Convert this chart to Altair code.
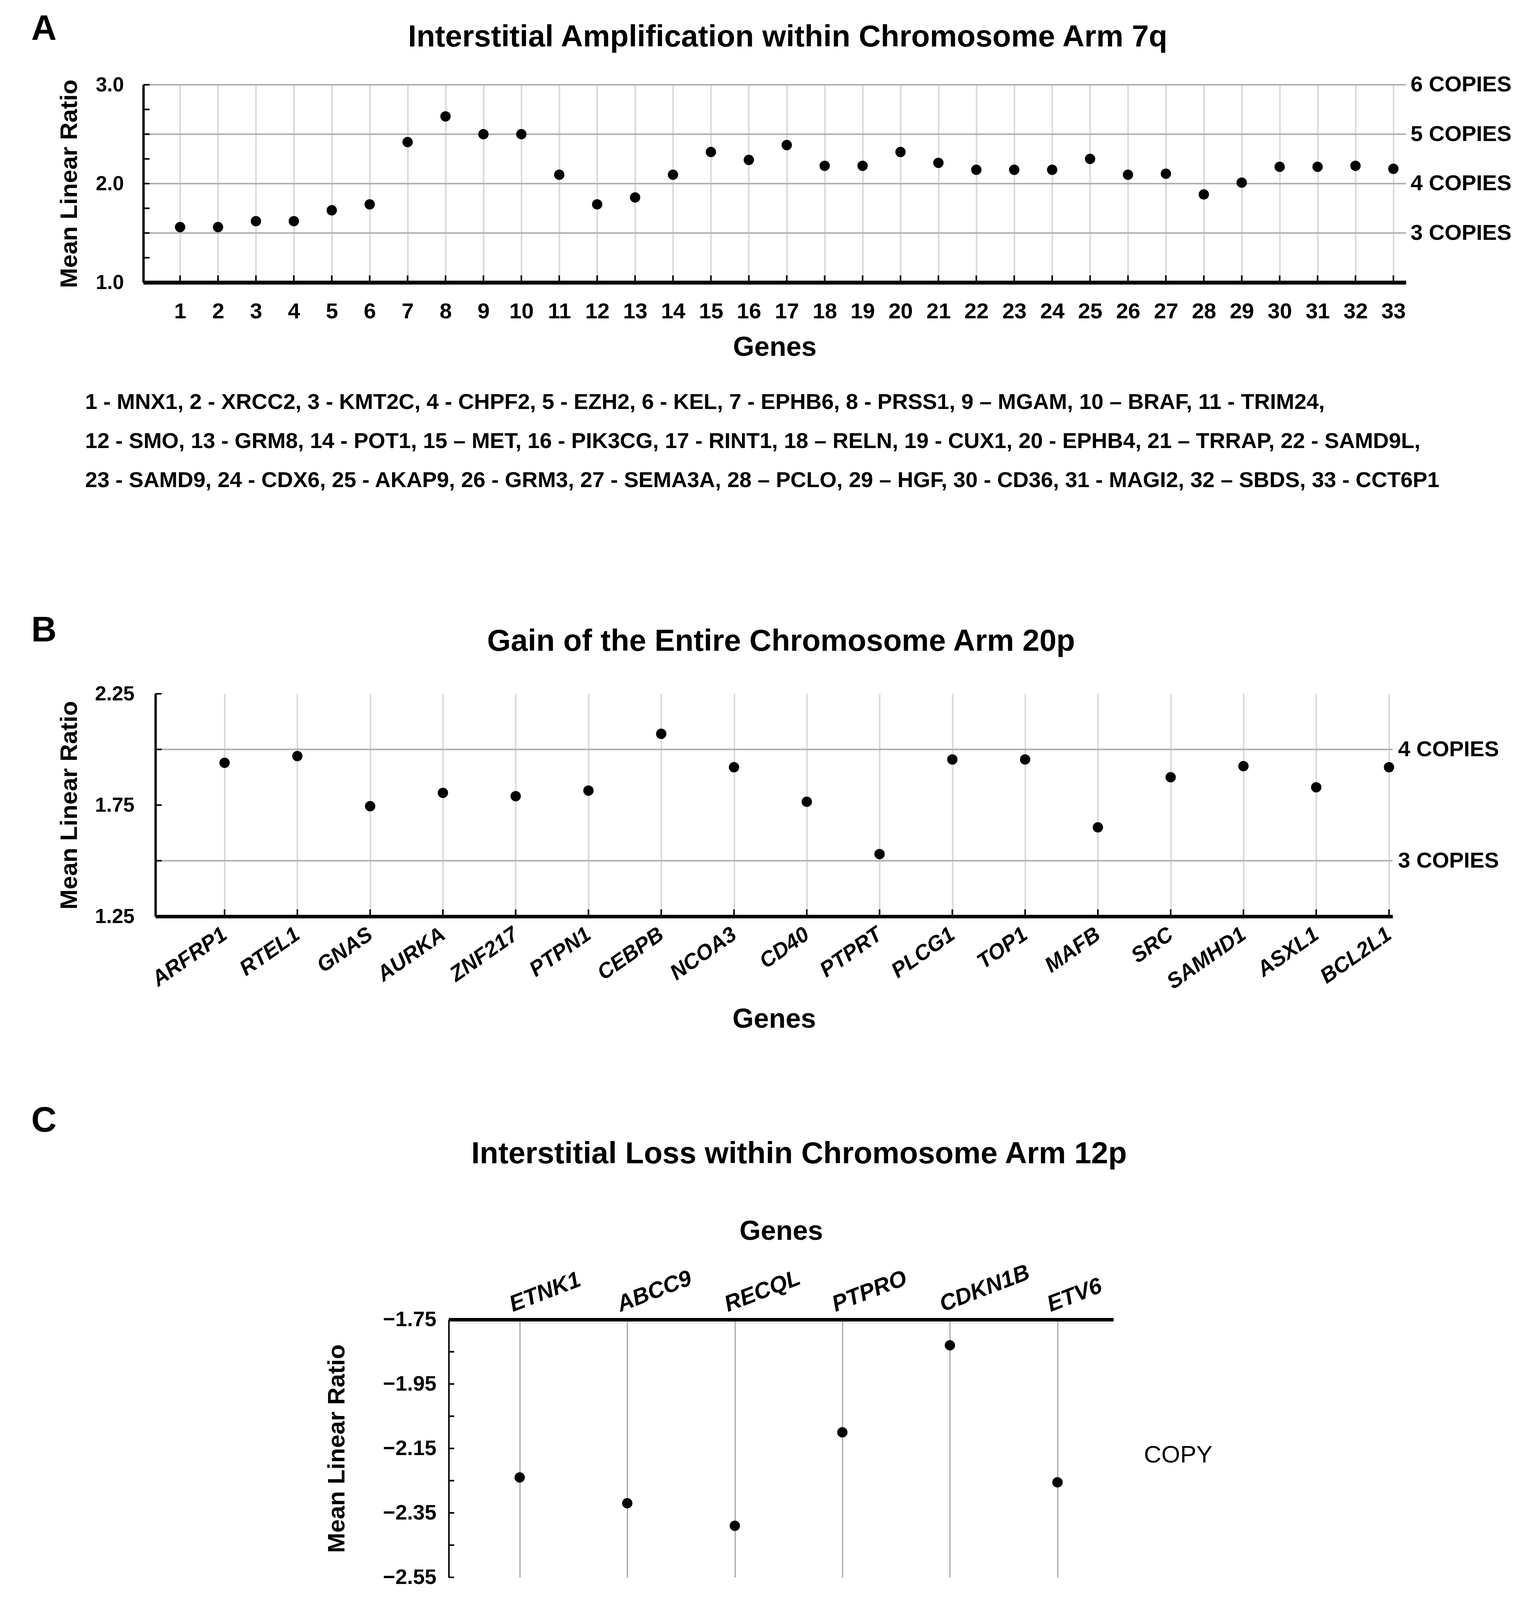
import altair as alt
import pandas as pd

FONT = "Liberation Sans"

# ---------------- Panel A data ----------------
a_idx = list(range(1, 34))
a_names = ["MNX1", "XRCC2", "KMT2C", "CHPF2", "EZH2", "KEL", "EPHB6", "PRSS1", "MGAM",
           "BRAF", "TRIM24", "SMO", "GRM8", "POT1", "MET", "PIK3CG", "RINT1", "RELN",
           "CUX1", "EPHB4", "TRRAP", "SAMD9L", "SAMD9", "CDX6", "AKAP9", "GRM3", "SEMA3A",
           "PCLO", "HGF", "CD36", "MAGI2", "SBDS", "CCT6P1"]
a_dash = ["-", "-", "-", "-", "-", "-", "-", "-", "–", "–", "-",
          "-", "-", "-", "–", "-", "-", "–", "-", "-", "–", "-",
          "-", "-", "-", "-", "-", "–", "–", "-", "-", "–", "-"]
a_ratio = [1.56, 1.56, 1.62, 1.62, 1.73, 1.79, 2.42, 2.68, 2.50, 2.50, 2.09,
           1.79, 1.86, 2.09, 2.32, 2.24, 2.39, 2.18, 2.18, 2.32, 2.21, 2.14,
           2.14, 2.14, 2.25, 2.09, 2.10, 1.89, 2.01, 2.17, 2.17, 2.18, 2.15]
a_ytick_vals = [1.0, 1.25, 1.5, 1.75, 2.0, 2.25, 2.5, 2.75, 3.0]
a_ylabel_vals = [1.0, 2.0, 3.0]
a_copy_ratio = [1.5, 2.0, 2.5, 3.0]
a_copy_label = ["3 COPIES", "4 COPIES", "5 COPIES", "6 COPIES"]
a_line_breaks = [11, 22]

# ---------------- Panel B data ----------------
b_genes = ["ARFRP1", "RTEL1", "GNAS", "AURKA", "ZNF217", "PTPN1", "CEBPB", "NCOA3", "CD40",
           "PTPRT", "PLCG1", "TOP1", "MAFB", "SRC", "SAMHD1", "ASXL1", "BCL2L1"]
b_ratio = [1.94, 1.97, 1.745, 1.805, 1.79, 1.815, 2.07, 1.92, 1.765,
           1.53, 1.955, 1.955, 1.65, 1.875, 1.925, 1.83, 1.92]
b_ytick_vals = [1.25, 1.5, 1.75, 2.0, 2.25]
b_ylabel_vals = [1.25, 1.75, 2.25]
b_copy_ratio = [1.5, 2.0]
b_copy_label = ["3 COPIES", "4 COPIES"]

# ---------------- Panel C data ----------------
c_genes = ["ETNK1", "ABCC9", "RECQL", "PTPRO", "CDKN1B", "ETV6"]
c_ratio = [-2.24, -2.32, -2.39, -2.10, -1.83, -2.255]
c_ytick_vals = [-1.75, -1.85, -1.95, -2.05, -2.15, -2.25, -2.35, -2.45, -2.55]
c_ylabel_vals = [-1.75, -1.95, -2.15, -2.35, -2.55]
c_copy_ratio = [-2.17]
c_copy_label = ["COPY"]


# ---------------- helpers ----------------
def text_layer(text, x, y, size, align="left", weight="bold", line_height=None):
    kw = dict(align=align, baseline="alphabetic", fontSize=size, fontWeight=weight,
              font=FONT, color="black")
    if line_height:
        kw["lineBreak"] = "\n"
        kw["lineHeight"] = line_height
    return alt.Chart(pd.DataFrame({"t": [text]})).mark_text(**kw).encode(
        x=alt.value(x), y=alt.value(y), text="t:N")


def letter_spacer(letter, y, ws):
    return alt.Chart(pd.DataFrame({"t": [letter]})).mark_text(
        align="left", baseline="alphabetic", fontSize=90, fontWeight="bold", font=FONT,
        color="black").encode(x=alt.value(0), y=alt.value(y), text="t:N").properties(
        width=ws, height=1)


def label_expr(names):
    arr = "[" + ",".join("'" + n + "'" for n in names) + "]"
    return arr + "[datum.value - 1]"


def y_axis(values, fmt, pad, title_pad):
    return alt.Axis(values=values, format=fmt, title="Mean Linear Ratio", grid=False,
                    ticks=False, domainColor="black", domainWidth=6,
                    labelFontSize=52, labelFontWeight="bold", labelPadding=pad,
                    titleFontSize=62, titleFontWeight="bold", titlePadding=title_pad)


# ---------------- Panel A ----------------
WA, HA = 3233, 506
xA = alt.Scale(domain=[0.03, 33.33], nice=False, zero=False)
yA = alt.Scale(domain=[1.0, 3.0], nice=False, zero=False)
dfA = pd.DataFrame({"gene": a_idx, "ratio": a_ratio})
axA_x = alt.Axis(values=a_idx, format="d", title="Genes", grid=True, gridColor="#d9d9d9",
                 gridWidth=4, ticks=False, domainColor="black", domainWidth=10,
                 labelFontSize=56, labelFontWeight="bold", labelAngle=0, labelPadding=47,
                 titleFontSize=70, titleFontWeight="bold", titlePadding=30)
axA_y = y_axis(a_ylabel_vals, ".1f", 50, 35)

a_rules = alt.Chart(pd.DataFrame({"ratio": a_copy_ratio, "label": a_copy_label})).mark_rule(
    color="#b0b0b0", strokeWidth=4).encode(y=alt.Y("ratio:Q", scale=yA, axis=axA_y))
a_points = alt.Chart(dfA).mark_circle(size=700, color="black", opacity=1).encode(
    x=alt.X("gene:Q", scale=xA, axis=axA_x), y=alt.Y("ratio:Q", scale=yA, axis=axA_y))
a_yt = alt.Chart(pd.DataFrame({"ratio": a_ytick_vals})).mark_tick(
    orient="horizontal", size=16, thickness=4, color="black", xOffset=8, opacity=1).encode(
    y=alt.Y("ratio:Q", scale=yA, axis=axA_y), x=alt.datum(0.03))
a_xt = alt.Chart(dfA).mark_tick(
    orient="vertical", size=18, thickness=4, color="black", yOffset=-9, opacity=1).encode(
    x=alt.X("gene:Q", scale=xA, axis=axA_x), y=alt.datum(1.0))
a_copies = alt.Chart(pd.DataFrame({"ratio": a_copy_ratio, "label": a_copy_label})).mark_text(
    align="left", baseline="middle", dx=12, fontSize=56, fontWeight="bold", font=FONT,
    color="black").encode(y=alt.Y("ratio:Q", scale=yA, axis=axA_y), x=alt.datum(33.33),
                          text="label:N")

legend_parts = []
for i, (n, d) in enumerate(zip(a_names, a_dash), start=1):
    sep = "" if i == len(a_names) else ","
    legend_parts.append(f"{i} {d} {n}{sep}")
legend_lines = []
start = 0
for br in a_line_breaks + [len(a_names)]:
    legend_lines.append(" ".join(legend_parts[start:br]))
    start = br
legend_text = "\n".join(legend_lines)

panelA = alt.layer(
    a_rules, a_points, a_yt, a_xt, a_copies,
    text_layer("Interstitial Amplification within Chromosome Arm 7q", 1650, -98, 78, align="center"),
    text_layer(legend_text, -149, 830, 56, line_height=100),
).properties(width=WA, height=HA)

# ---------------- Panel B ----------------
WB, HB = 3168, 570
xB = alt.Scale(domain=[0.05, 17.05], nice=False, zero=False)
yB = alt.Scale(domain=[1.25, 2.25], nice=False, zero=False)
dfB = pd.DataFrame({"gene": list(range(1, len(b_genes) + 1)), "ratio": b_ratio})
axB_x = alt.Axis(values=list(range(1, len(b_genes) + 1)), labelExpr=label_expr(b_genes),
                 title="Genes", grid=True, gridColor="#d9d9d9", gridWidth=4, ticks=False,
                 domainColor="black", domainWidth=9, labelFontSize=55, labelFontWeight="bold",
                 labelFontStyle="italic", labelAngle=-35, labelAlign="right",
                 labelBaseline="middle", labelPadding=40, labelLimit=0, labelOverlap=False,
                 titleFontSize=70, titleFontWeight="bold", titlePadding=33)
axB_y = y_axis(b_ylabel_vals, ".2f", 54, 33)

b_rules = alt.Chart(pd.DataFrame({"ratio": b_copy_ratio, "label": b_copy_label})).mark_rule(
    color="#b0b0b0", strokeWidth=4).encode(y=alt.Y("ratio:Q", scale=yB, axis=axB_y))
b_points = alt.Chart(dfB).mark_circle(size=700, color="black", opacity=1).encode(
    x=alt.X("gene:Q", scale=xB, axis=axB_x), y=alt.Y("ratio:Q", scale=yB, axis=axB_y))
b_yt = alt.Chart(pd.DataFrame({"ratio": b_ytick_vals})).mark_tick(
    orient="horizontal", size=16, thickness=4, color="black", xOffset=8, opacity=1).encode(
    y=alt.Y("ratio:Q", scale=yB, axis=axB_y), x=alt.datum(0.05))
b_xt = alt.Chart(dfB).mark_tick(
    orient="vertical", size=18, thickness=4, color="black", yOffset=-9, opacity=1).encode(
    x=alt.X("gene:Q", scale=xB, axis=axB_x), y=alt.datum(1.25))
b_copies = alt.Chart(pd.DataFrame({"ratio": b_copy_ratio, "label": b_copy_label})).mark_text(
    align="left", baseline="middle", dx=14, fontSize=56, fontWeight="bold", font=FONT,
    color="black").encode(y=alt.Y("ratio:Q", scale=yB, axis=axB_y), x=alt.datum(17.05),
                          text="label:N")

panelB = alt.layer(
    b_rules, b_points, b_yt, b_xt, b_copies,
    text_layer("Gain of the Entire Chromosome Arm 20p", 1602, -110, 78, align="center"),
).properties(width=WB, height=HB)

# ---------------- Panel C ----------------
WC, HC = 1702, 660
xC = alt.Scale(domain=[0.34, 6.52], nice=False, zero=False)
yC = alt.Scale(domain=[-2.55, -1.75], nice=False, zero=False)
dfC = pd.DataFrame({"gene": list(range(1, len(c_genes) + 1)), "ratio": c_ratio})
axC_x = alt.Axis(orient="top", values=list(range(1, len(c_genes) + 1)),
                 labelExpr=label_expr(c_genes), title="Genes", grid=True,
                 gridColor="#a6a6a6", gridWidth=3, ticks=False, domainColor="black",
                 domainWidth=9, labelFontSize=58, labelFontWeight="bold",
                 labelFontStyle="italic", labelAngle=-21, labelAlign="left",
                 labelBaseline="alphabetic", labelPadding=20, labelOffset=-18, labelLimit=0,
                 labelOverlap=False, titleFontSize=70, titleFontWeight="bold", titlePadding=40)
axC_y = alt.Axis(values=c_ylabel_vals, format=".2f", title="Mean Linear Ratio", grid=False,
                 ticks=False, domainColor="black", domainWidth=4, labelFontSize=54,
                 labelFontWeight="bold", labelPadding=32, titleFontSize=62,
                 titleFontWeight="bold", titlePadding=86)

c_points = alt.Chart(dfC).mark_circle(size=700, color="black", opacity=1).encode(
    x=alt.X("gene:Q", scale=xC, axis=axC_x), y=alt.Y("ratio:Q", scale=yC, axis=axC_y))
c_yt = alt.Chart(pd.DataFrame({"ratio": c_ytick_vals})).mark_tick(
    orient="horizontal", size=14, thickness=4, color="black", xOffset=7, opacity=1).encode(
    y=alt.Y("ratio:Q", scale=yC, axis=axC_y), x=alt.datum(0.34))
c_copy = alt.Chart(pd.DataFrame({"ratio": c_copy_ratio, "label": c_copy_label})).mark_text(
    align="left", baseline="middle", dx=78, fontSize=62, fontWeight="normal", font=FONT,
    color="black").encode(y=alt.Y("ratio:Q", scale=yC, axis=axC_y), x=alt.datum(6.52),
                          text="label:N")

panelC = alt.layer(
    c_points, c_yt, c_copy,
    text_layer("Interstitial Loss within Chromosome Arm 12p", 897, -400, 78, align="center"),
).properties(width=WC, height=HC)

rowA = alt.hconcat(letter_spacer("A", -115, 66), panelA, spacing=0)
rowB = alt.hconcat(letter_spacer("B", -134, 66), panelB, spacing=0)
rowC = alt.hconcat(letter_spacer("C", -481, 751), panelC, spacing=0)

chart = alt.vconcat(
    rowA,
    alt.vconcat(rowB, rowC, spacing=180),
    spacing=312,
).properties(
    padding={"left": 72, "top": 22, "right": 10, "bottom": 4}
).configure_view(strokeWidth=0).configure_axis(
    labelFont=FONT, titleFont=FONT, labelColor="black", titleColor="black"
)

chart.save("out.html", embed_options={"renderer": "svg", "actions": False})
